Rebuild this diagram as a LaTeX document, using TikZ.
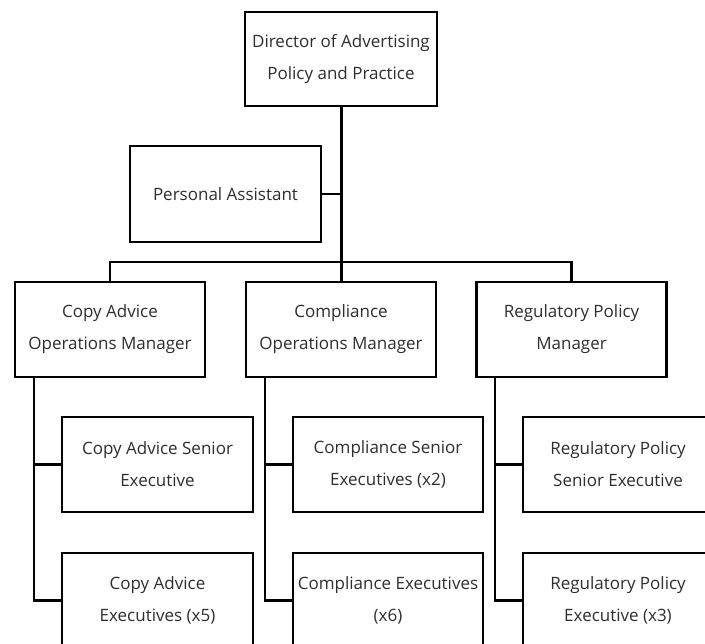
\documentclass[tikz,border=0pt]{standalone}
\usepackage{fontspec}
\setmainfont{Open Sans}
\begin{document}
\begin{tikzpicture}[x=1pt,y=-1pt,
  orgbox/.style={draw=black, line width=2.8pt, fill=white, minimum width=190pt,
    minimum height=95pt, align=center, inner sep=0pt,
    font=\fontsize{17pt}{32pt}\selectfont, text=black!82},
  link/.style={draw=black, line width=2.2pt, line cap=rect},
  trunk/.style={draw=black, line width=3pt}]
  \useasboundingbox (0,0) rectangle (705,644);
  \clip (0,0) rectangle (705,644);

  % top of the hierarchy
  \node[orgbox, minimum width=192pt, minimum height=94pt] (dir) at (341,59)
    {Director of Advertising\\Policy and Practice};
  \node[orgbox, minimum width=191pt, minimum height=96pt] (pa) at (225.5,194)
    {Personal Assistant};

  % managers
  \node[orgbox] (copy) at (110,329.5) {Copy Advice\\Operations Manager};
  \node[orgbox] (comp) at (341,329.5) {Compliance\\Operations Manager};
  \node[orgbox] (reg)  at (571.5,329.5) {Regulatory Policy\\Manager};

  % senior executives
  \node[orgbox, minimum width=191pt] (csr) at (157.5,464.5) {Copy Advice Senior\\Executive};
  \node[orgbox] (msr) at (388,464.5) {Compliance Senior\\Executives (x2)};
  \node[orgbox] (rsr) at (618,464.5) {Regulatory Policy\\Senior Executive};

  % executives
  \node[orgbox, minimum width=191pt] (cex) at (157.5,600.5) {Copy Advice\\Executives (x5)};
  \node[orgbox] (mex) at (388,600.5) {Compliance Executives\\(x6)};
  \node[orgbox] (rex) at (618,600.5) {Regulatory Policy\\Executive (x3)};

  % connectors
  \coordinate (bar) at (341,262);
  \coordinate (cdrop) at (34,377);
  \coordinate (mdrop) at (265,377);
  \coordinate (rdrop) at (495,377);

  \draw[trunk] (dir.south) -- (comp.north);
  \draw[link] (pa.east) -- (pa.east -| dir.south);
  \draw[link] (copy.north) |- (bar) -| (reg.north);

  \draw[link] (cdrop) |- (cex.west);
  \draw[link] (csr.west) -- (csr.west -| cdrop);
  \draw[link] (mdrop) |- (mex.west);
  \draw[link] (msr.west) -- (msr.west -| mdrop);
  \draw[link] (rdrop) |- (rex.west);
  \draw[link] (rsr.west) -- (rsr.west -| rdrop);
\end{tikzpicture}
\end{document}
